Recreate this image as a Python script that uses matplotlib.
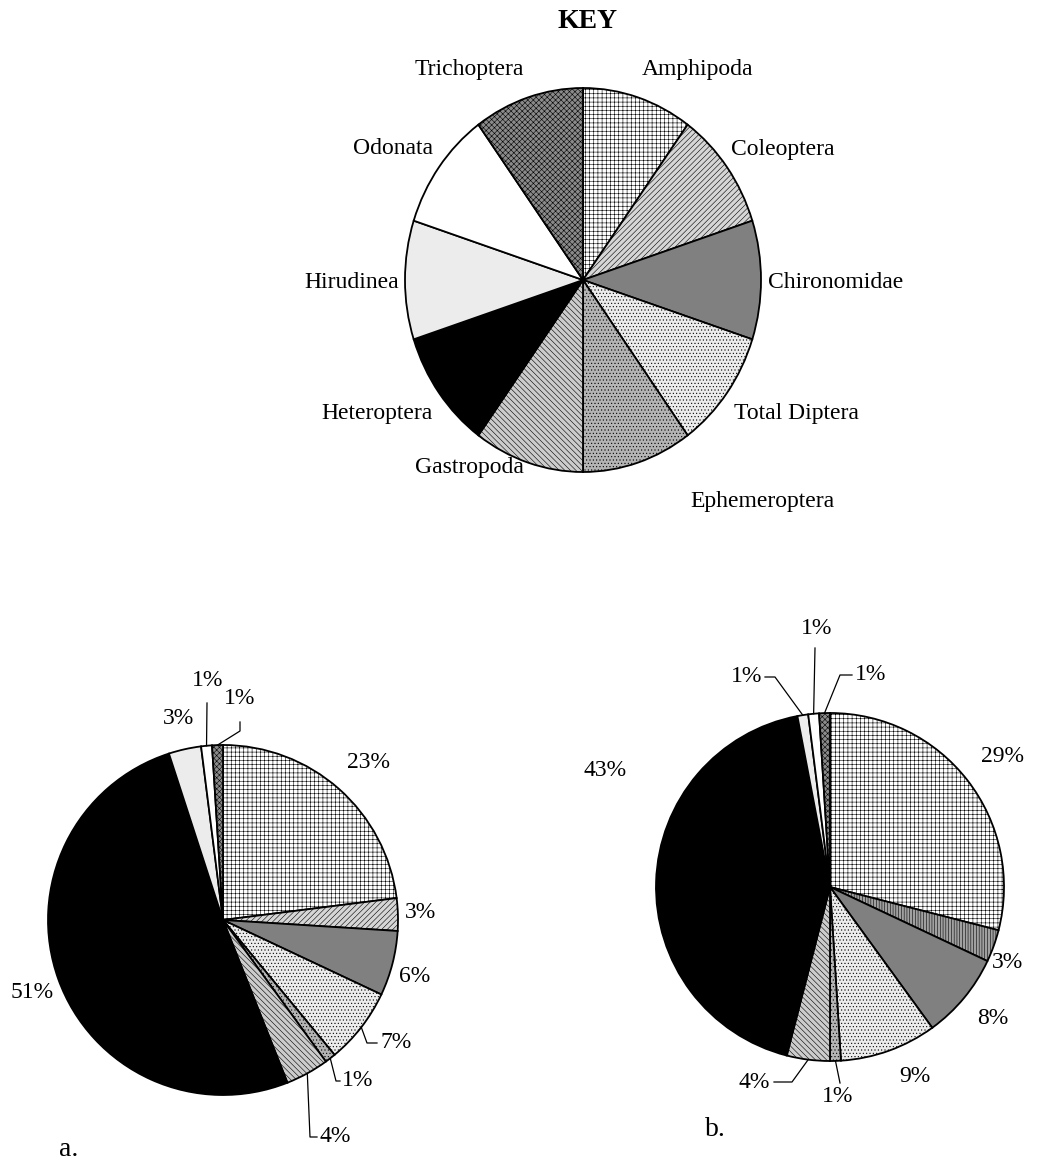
import matplotlib
matplotlib.use("Agg")
import matplotlib.pyplot as plt
import numpy as np

plt.rcParams['font.family'] = ['Liberation Serif', 'DejaVu Serif']
plt.rcParams['hatch.linewidth'] = 0.4

W, H = 1042, 1166

# taxa in clockwise order from 12 o'clock
taxa = ["Amphipoda", "Coleoptera", "Chironomidae", "Total Diptera", "Ephemeroptera",
        "Gastropoda", "Heteroptera", "Hirudinea", "Odonata", "Trichoptera"]
key_share = [10, 10, 10, 10, 10, 10, 10, 10, 10, 10]
site_a = [23, 3, 6, 7, 1, 4, 51, 3, 1, 1]
site_b = [29, 3, 8, 9, 1, 4, 43, 1, 1, 1]

# (facecolor, hatch) for each taxon
fills = {
    "Amphipoda": ("white", "++++"),
    "Coleoptera": ("#d6d6d6", "//////"),
    "Chironomidae": ("#808080", ""),
    "Total Diptera": ("#ececec", "....."),
    "Ephemeroptera": ("#b4b4b4", "....."),
    "Gastropoda": ("#cccccc", "\\\\\\\\\\\\"),
    "Heteroptera": ("black", ""),
    "Hirudinea": ("#ececec", ""),
    "Odonata": ("white", ""),
    "Trichoptera": ("#8a8a8a", "xxxxxx"),
}
fills_b = dict(fills)
fills_b["Coleoptera"] = ("#a0a0a0", "||||||")

fig = plt.figure(figsize=(W / 100, H / 100), dpi=100)


def draw_pie(cx, cy, rx, ry, values, fill_map):
    ax = fig.add_axes([(cx - rx) / W, (H - cy - ry) / H, 2 * rx / W, 2 * ry / H])
    wedges, _ = ax.pie(values, startangle=90, counterclock=False,
                       wedgeprops=dict(edgecolor="black", linewidth=1.3))
    for w, t in zip(wedges, taxa):
        fc, hatch = fill_map[t]
        w.set_facecolor(fc)
        w.set_hatch(hatch)
        w.set_clip_on(False)
    ax.set_aspect("auto")
    ax.set_xlim(-1, 1)
    ax.set_ylim(-1, 1)
    ax.axis("off")
    # edge point (pixels) of each wedge at its mid angle
    edges = []
    for w in wedges:
        m = np.deg2rad((w.theta1 + w.theta2) / 2)
        edges.append((cx + rx * np.cos(m), cy - ry * np.sin(m)))
    return edges


key_edges = draw_pie(583, 280, 178, 192, key_share, fills)
a_edges = draw_pie(223, 920, 175, 175, site_a, fills)
b_edges = draw_pie(830, 887, 174, 174, site_b, fills_b)

# overlay in pixel coordinates for labels and leader lines
ov = fig.add_axes([0, 0, 1, 1], zorder=5)
ov.set_xlim(0, W)
ov.set_ylim(H, 0)
ov.axis("off")

FS = 17
ov.text(588, 22, "KEY", ha="center", va="center", fontsize=20, fontweight="bold")

key_pos = {
    "Amphipoda": (642, 69, "left"),
    "Coleoptera": (731, 149, "left"),
    "Chironomidae": (768, 282, "left"),
    "Total Diptera": (734, 414, "left"),
    "Ephemeroptera": (690, 501, "left"),
    "Gastropoda": (469, 468, "center"),
    "Heteroptera": (433, 414, "right"),
    "Hirudinea": (399, 282, "right"),
    "Odonata": (433, 148, "right"),
    "Trichoptera": (524, 70, "right"),
}
for t in taxa:
    x, y, ha = key_pos[t]
    ov.text(x, y, t, ha=ha, va="center", fontsize=FS)

# percent labels: (x, y, ha, leader points after the wedge edge)
a_pos = [
    (368, 763, "center", None),
    (421, 913, "center", None),
    (415, 976, "center", None),
    (380, 1043, "left", [(367, 1043), (377, 1043)]),
    (342, 1081, "left", [(336, 1081), (340, 1081)]),
    (320, 1137, "left", [(310, 1137), (317, 1137)]),
    (32, 992, "center", None),
    (178, 718, "center", None),
    (208, 680, "center", [(207, 703)]),
    (240, 698, "center", [(240, 731), (240, 722)]),
]
b_pos = [
    (1002, 757, "center", None),
    (992, 962, "left", None),
    (993, 1018, "center", None),
    (915, 1076, "center", None),
    (838, 1097, "center", [(840, 1083)]),
    (770, 1082, "right", [(792, 1082), (774, 1082)]),
    (605, 770, "center", None),
    (762, 677, "right", [(775, 677), (765, 677)]),
    (817, 628, "center", [(815, 648)]),
    (855, 675, "left", [(840, 675), (852, 675)]),
]


def label_pie(values, edges, pos):
    for v, e, (x, y, ha, lead) in zip(values, edges, pos):
        ov.text(x, y, f"{v}%", ha=ha, va="center", fontsize=FS)
        if lead:
            pts = [e] + lead
            ov.plot([p[0] for p in pts], [p[1] for p in pts], color="black",
                    lw=0.9, clip_on=False)


label_pie(site_a, a_edges, a_pos)
label_pie(site_b, b_edges, b_pos)

ov.text(69, 1150, "a.", ha="center", va="center", fontsize=20)
ov.text(715, 1130, "b.", ha="center", va="center", fontsize=20)

fig.savefig("out.png", dpi=100, facecolor="white")
